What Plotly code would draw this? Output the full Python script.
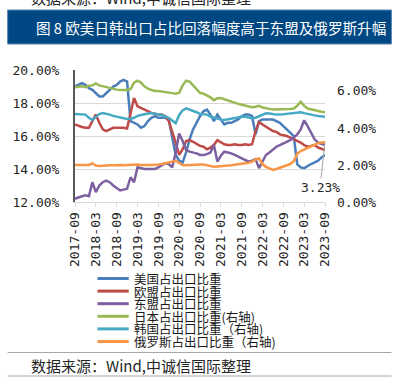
import plotly.graph_objects as go
import pandas as pd

months = [p.strftime("%Y-%m") for p in pd.period_range("2017-09", "2023-09", freq="M")]
tick_labels = months[::6]

us = [19.0, 19.1, 19.2, 19.1, 18.9, 18.8, 18.6, 18.4, 18.4, 18.6, 18.8, 19.0, 19.1, 19.3, 19.4, 19.3,
      16.9, 16.8, 16.7, 16.5, 16.6, 16.9, 17.1, 17.2, 17.1, 17.1, 17.1, 17.0, 16.0, 14.85, 14.5, 14.4,
      15.0, 15.8, 16.4, 16.8, 17.2, 17.5, 17.6, 17.3, 16.9, 17.3, 17.0, 16.7, 16.8, 16.8, 16.9, 17.0,
      17.2, 17.3, 17.3, 17.2, 16.1, 16.9, 17.0, 17.0, 17.0, 17.0, 16.9, 16.8, 16.6, 16.4, 16.2, 16.0,
      14.3, 14.1, 14.05, 14.2, 14.3, 14.4, 14.5, 14.7, 14.85]
eu = [16.7, 16.6, 16.55, 16.5, 16.5, 16.9, 17.3, 16.8, 16.4, 16.3, 16.4, 16.5, 16.5, 16.5, 16.5, 16.45,
      17.3, 18.3, 17.8, 17.7, 17.6, 17.5, 17.4, 17.35, 17.3, 17.3, 17.2, 16.9, 16.3, 15.6, 14.85, 15.2,
      15.7, 15.75, 15.65, 15.55, 15.4, 15.35, 15.2, 15.3, 15.45, 15.75, 15.6, 15.5, 15.45, 15.45, 15.5, 15.45,
      15.45, 15.5, 15.45, 15.5, 16.3, 16.85, 16.7, 16.55, 16.4, 16.3, 16.25, 16.1, 16.05, 16.0, 15.9, 15.8,
      15.75, 15.6, 15.45, 15.35, 15.4, 15.45, 15.3, 15.2, 15.15]
asean = [12.2, 12.3, 12.35, 12.4, 12.35, 13.2, 12.6, 13.0, 13.2, 13.3, 13.2, 13.0, 12.85, 12.7, 12.75, 12.8,
         13.5, 13.2, 14.1, 14.05, 14.0, 14.0, 14.0, 14.0, 14.1, 14.2, 14.35, 14.3, 14.1, 15.0, 16.15, 15.7,
         15.15, 15.05, 15.0, 14.95, 14.85, 14.85, 14.9, 15.0, 15.45, 14.45, 14.8, 15.05, 15.0, 14.95, 14.85, 14.75,
         14.65, 14.55, 14.45, 14.5, 14.6, 14.05, 14.5, 14.85, 15.0, 15.2, 15.35, 15.45, 15.55, 15.6, 15.75, 15.9,
         16.1, 16.4, 16.95, 16.6, 16.2, 15.8, 15.6, 15.5, 15.45]
japan = [6.2, 6.22, 6.25, 6.2, 6.28, 6.3, 6.4, 6.3, 6.25, 6.2, 6.15, 6.1, 6.07, 6.05, 6.05, 6.05,
         6.1, 6.45, 6.55, 6.45, 6.25, 6.12, 6.05, 6.0, 6.0, 5.98, 5.95, 5.9, 5.88, 5.85, 5.9, 6.3,
         6.55, 6.5, 6.3, 6.05, 5.9, 5.85, 5.75, 5.65, 5.5, 5.6, 5.62, 5.55, 5.5, 5.45, 5.38, 5.3,
         5.25, 5.2, 5.15, 5.12, 5.15, 5.2, 5.1, 5.05, 5.03, 5.0, 5.0, 5.0, 4.98, 5.0, 5.02, 5.05,
         5.2, 5.42, 5.2, 5.05, 5.0, 4.95, 4.9, 4.88, 4.85]
korea = [4.75, 4.75, 4.72, 4.72, 4.55, 4.43, 4.6, 4.75, 4.8, 4.78, 4.72, 4.65, 4.6, 4.55, 4.52, 4.5,
         4.49, 4.55, 4.65, 4.7, 4.75, 4.78, 4.8, 4.78, 4.75, 4.7, 4.62, 4.55, 4.4, 4.25, 4.7, 4.95,
         5.06, 5.0, 4.95, 4.85, 4.76, 4.74, 4.72, 4.62, 4.55, 4.5, 4.45, 4.43, 4.47, 4.5, 4.55, 4.57,
         4.6, 4.6, 4.58, 4.52, 4.55, 4.62, 4.72, 4.79, 4.78, 4.74, 4.72, 4.72, 4.74, 4.76, 4.78, 4.82,
         4.85, 4.85, 4.8, 4.75, 4.72, 4.68, 4.65, 4.62, 4.6]
russia = [2.0, 2.0, 1.98, 1.97, 2.0, 2.08, 1.97, 1.95, 1.97, 1.98, 1.98, 1.98, 2.0, 2.0, 1.98, 2.0,
          2.02, 2.03, 2.02, 2.0, 1.98, 2.0, 2.0, 2.0, 2.03, 2.05, 2.08, 2.12, 2.18, 2.22, 2.1, 2.0,
          1.98, 2.0, 2.02, 2.03, 2.03, 2.03, 2.0, 1.95, 1.9, 1.92, 1.95, 1.95, 1.97, 1.98, 2.0, 2.02,
          2.05, 2.08, 2.12, 2.18, 2.3, 2.35, 2.05, 1.9, 1.8, 1.73, 1.78, 1.85, 1.92, 1.98, 2.05, 2.2,
          2.6, 2.75, 2.85, 2.92, 3.0, 3.1, 3.18, 3.22, 3.23]

names = ["美国占出口比重", "欧盟占出口比重", "东盟占出口比重",
         "日本占出口比重(右轴)", "韩国占出口比重（右轴)", "俄罗斯占出口比重（右轴)"]
colors = ["#4A7EBB", "#BE4B48", "#7D60A0", "#98B954", "#46AAC5", "#F79646"]
series = [us, eu, asean, japan, korea, russia]
axes = ["y", "y", "y", "y2", "y2", "y2"]

left_ticks = [12, 14, 16, 18, 20]
right_ticks = [0, 2, 4, 6]

title = "图 8 欧美日韩出口占比回落幅度高于东盟及俄罗斯升幅"
source = "数据来源：Wind,中诚信国际整理"

W, H = 402, 391
L, R, T, B = 69, 77, 70, 189
PW, PH = W - L - R, H - T - B


def px(x):
    return (x - L) / PW


def py(y):
    return (T + PH - y) / PH


CJK = "Noto Sans CJK SC"
MONO = "DejaVu Sans Mono"
TXT = "#262626"

fig = go.Figure()
for n, c, s, a in zip(names, colors, series, axes):
    fig.add_trace(go.Scatter(x=months, y=s, name=n, yaxis=a, mode="lines",
                             line=dict(color=c, width=2.5), showlegend=False))

fig.update_layout(
    width=W, height=H, margin=dict(l=L, r=R, t=T, b=B),
    paper_bgcolor="white", plot_bgcolor="white",
    xaxis=dict(type="category", range=[0, len(months) - 1], tickmode="array",
               tickvals=tick_labels, ticktext=tick_labels, tickangle=-90,
               tickfont=dict(family=MONO, size=13, color=TXT),
               showgrid=False, showline=True, linecolor="#D9D9D9", linewidth=1,
               ticks="outside", ticklen=4, tickcolor="#D9D9D9", zeroline=False),
    yaxis=dict(range=[12, 20], tickmode="array", tickvals=left_ticks,
               ticktext=["%.2f%%" % v for v in left_ticks],
               tickfont=dict(family=MONO, size=13, color=TXT),
               showgrid=True, gridcolor="#D9D9D9", gridwidth=1,
               showline=True, linecolor="#595959", linewidth=2, zeroline=False,
               ticklabelstandoff=11),
    yaxis2=dict(range=[0, 7.13], tickmode="array", tickvals=right_ticks,
                ticktext=["%.2f%%" % v for v in right_ticks],
                overlaying="y", side="right", showgrid=False, showline=False, zeroline=False,
                tickfont=dict(family=MONO, size=13, color=TXT),
                ticklabelstandoff=11),
)

shapes = []
annos = []
# title banner
shapes.append(dict(type="rect", xref="paper", yref="paper", x0=px(0), x1=px(393), y0=py(44), y1=py(10),
                   fillcolor="#004883", line=dict(color="#5B84B1", width=1), layer="below"))
annos.append(dict(text=title, xref="paper", yref="paper", x=px(208), y=py(27), showarrow=False,
                  xanchor="center", yanchor="middle", font=dict(family=CJK, size=14.6, color="white")))
# top cut-off source text
annos.append(dict(text=source, xref="paper", yref="paper", x=px(22), y=py(-3), showarrow=False,
                  xanchor="left", yanchor="middle", font=dict(family=CJK, size=15, color=TXT)))
# legend
for i, (n, c) in enumerate(zip(names, colors)):
    yy = 278.5 + 12.6 * i
    shapes.append(dict(type="line", xref="paper", yref="paper", x0=px(92), x1=px(124), y0=py(yy), y1=py(yy),
                       line=dict(color=c, width=3)))
    annos.append(dict(text=n, xref="paper", yref="paper", x=px(127), y=py(yy), showarrow=False,
                      xanchor="left", yanchor="middle",
                      font=dict(family=CJK, size=12.5, color="#1A1A1A")))
# footer
for yy in (352.5, 376):
    shapes.append(dict(type="line", xref="paper", yref="paper", x0=px(0), x1=px(393), y0=py(yy), y1=py(yy),
                       line=dict(color="#A6A6A6", width=1)))
annos.append(dict(text=source, xref="paper", yref="paper", x=px(22), y=py(365), showarrow=False,
                  xanchor="left", yanchor="middle", font=dict(family=CJK, size=15, color=TXT)))
# value label
annos.append(dict(text="%.2f%%" % russia[-1], x=months[-1], y=russia[-1], xref="x", yref="y2",
                  showarrow=True, arrowhead=0, arrowwidth=1, arrowcolor="#A6A6A6", ax=-5, ay=45,
                  font=dict(family=MONO, size=13, color=TXT)))

fig.update_layout(shapes=shapes, annotations=annos)
fig.write_html("out.html", config={"displayModeBar": False},
               post_script="document.body.style.margin='0px';")
